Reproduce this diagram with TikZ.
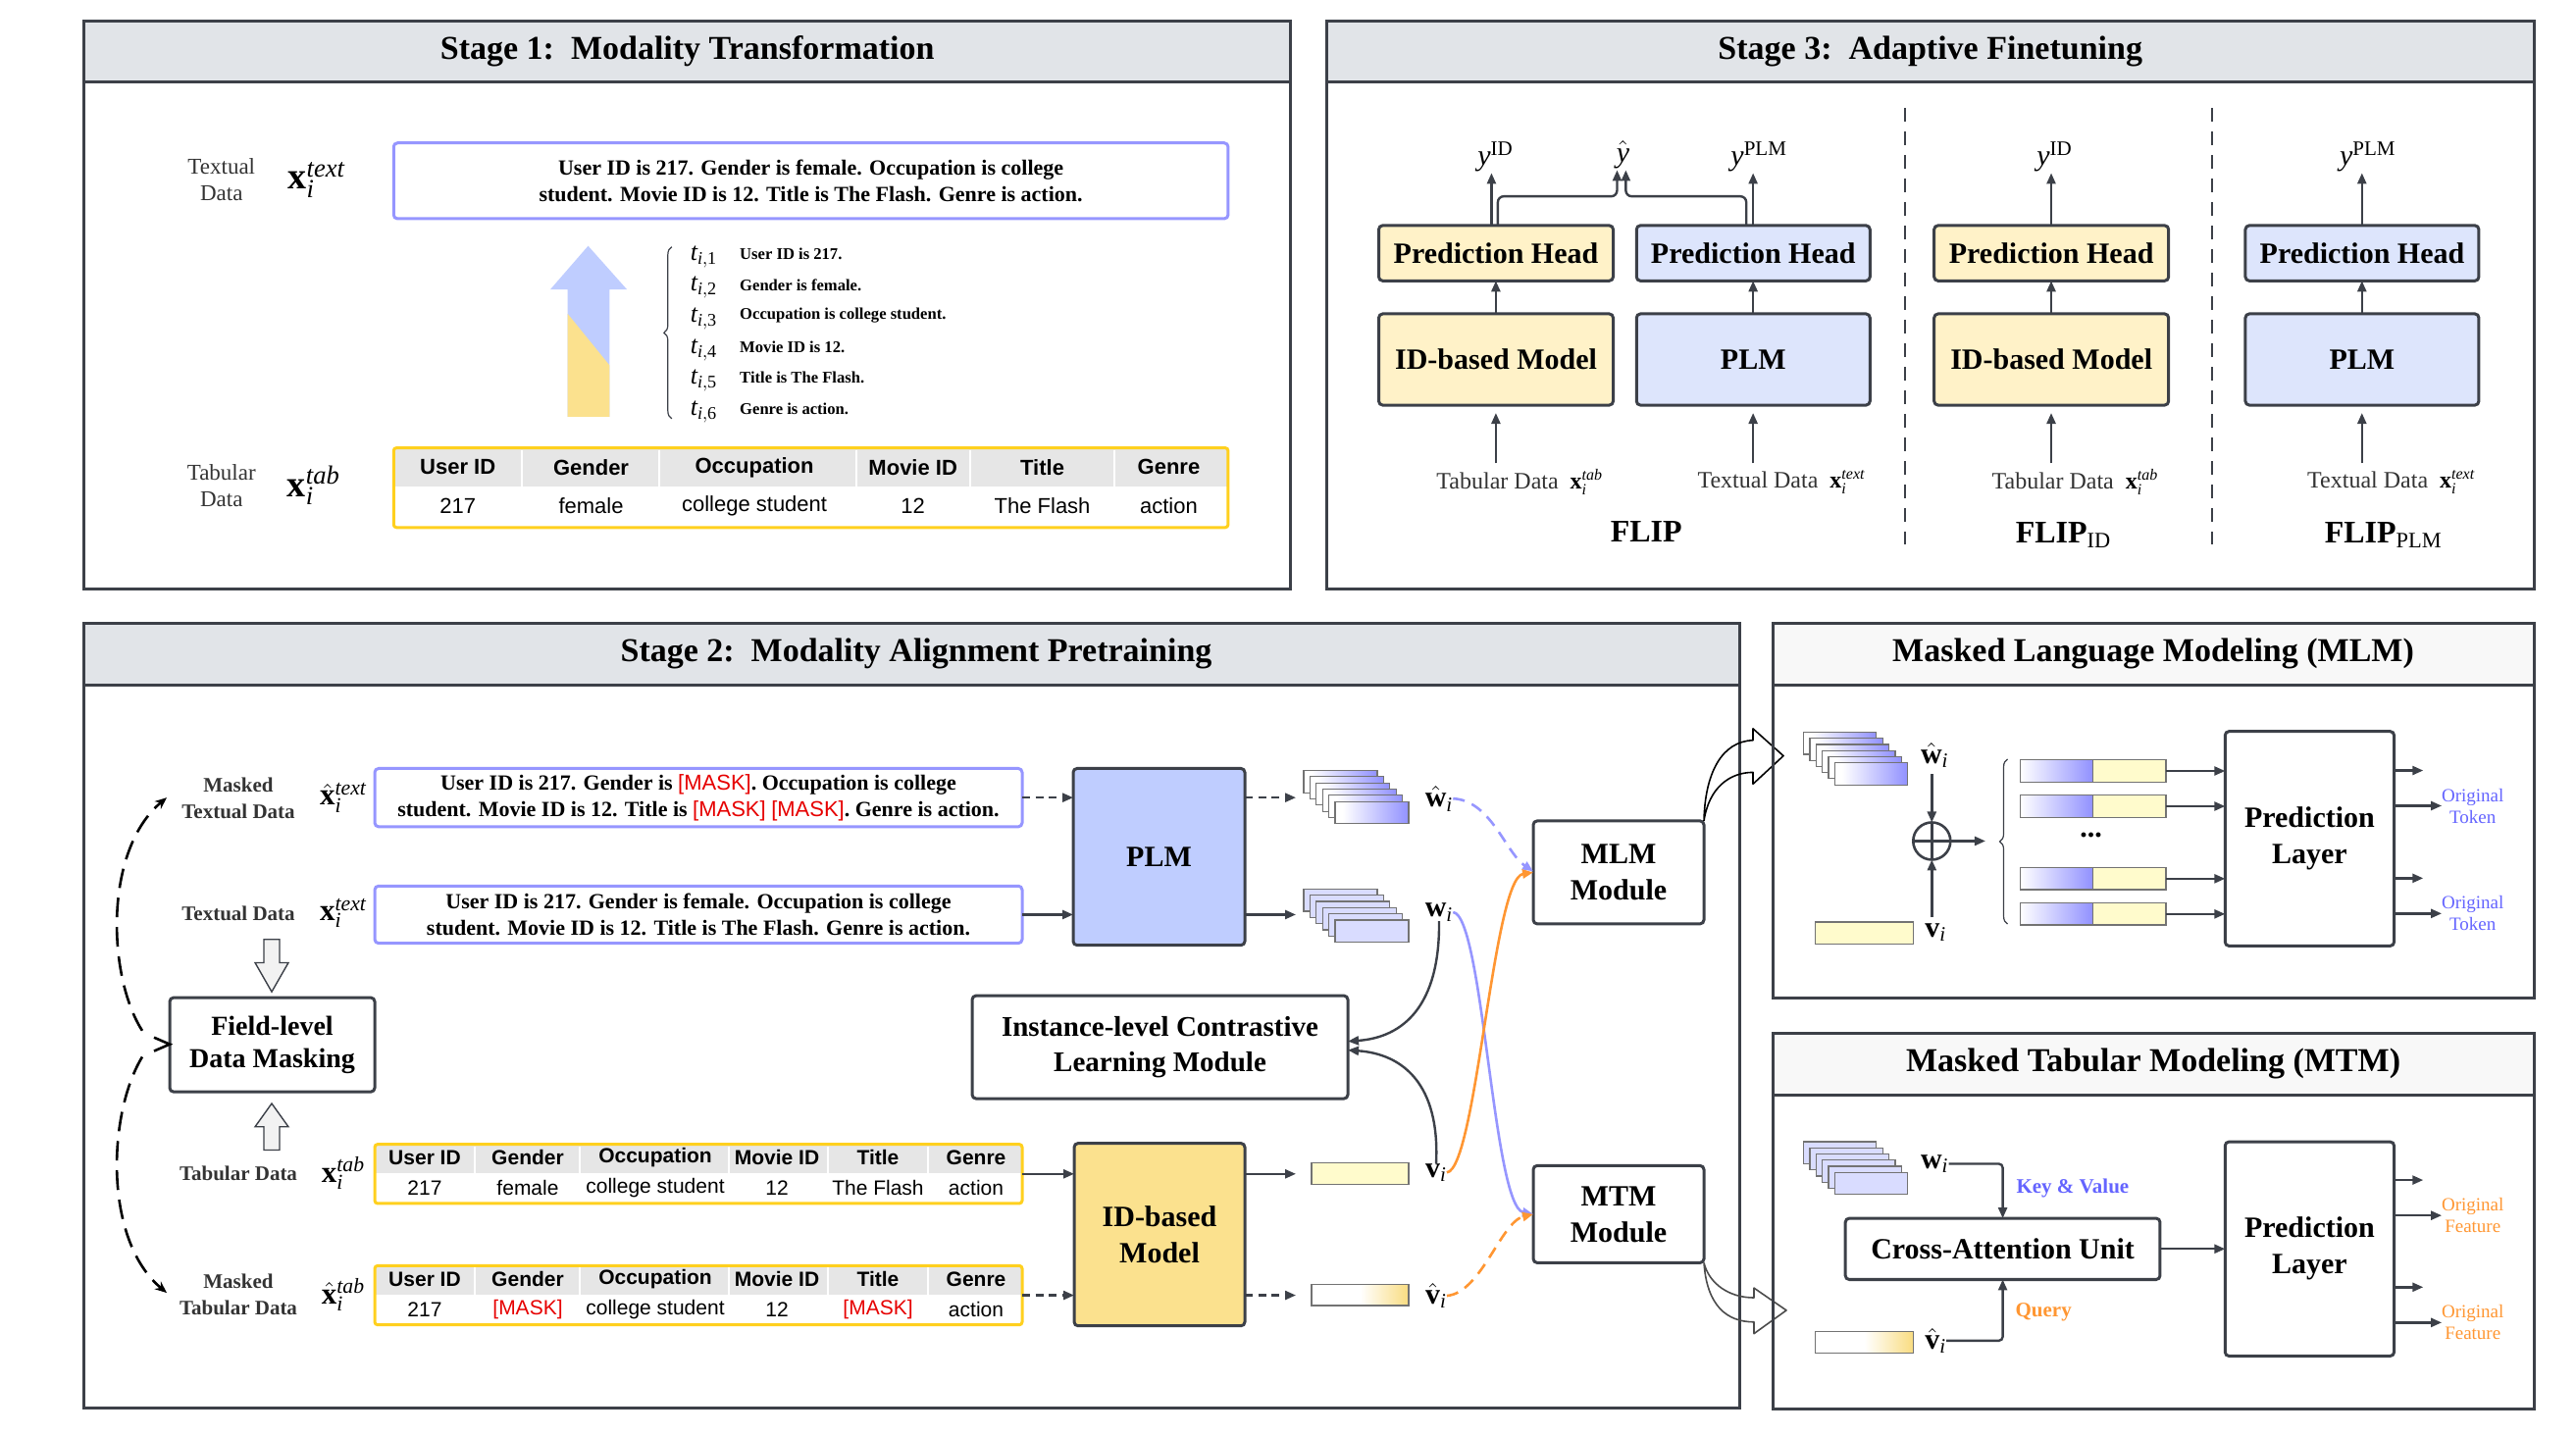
\documentclass[tikz,border=0pt]{standalone}
\usepackage{fontspec}
\setmainfont{Liberation Serif}
\setsansfont{Liberation Sans}
\usetikzlibrary{arrows.meta,calc,decorations.pathreplacing}
\definecolor{dk}{RGB}{60,64,72}
\definecolor{hdr}{RGB}{225,228,232}
\definecolor{hdrb}{RGB}{248,248,248}
\definecolor{bl}{RGB}{150,150,255}
\definecolor{yb}{RGB}{255,208,30}
\definecolor{plmb}{RGB}{191,205,255}
\definecolor{idy}{RGB}{251,225,142}
\definecolor{ly}{RGB}{255,242,200}
\definecolor{lb}{RGB}{221,229,252}
\definecolor{wst}{RGB}{217,220,255}
\definecolor{wgr}{RGB}{145,145,255}
\definecolor{vy}{RGB}{255,251,204}
\definecolor{vgr}{RGB}{249,220,128}
\definecolor{org}{RGB}{255,150,50}
\definecolor{mred}{RGB}{230,0,0}
\definecolor{tgray}{RGB}{51,51,51}
\definecolor{thd}{RGB}{230,230,230}
\definecolor{tokb}{RGB}{100,100,255}
\pgfdeclarehorizontalshading{vhat}{100bp}{color(0bp)=(white); color(50bp)=(white); color(75bp)=(vgr); color(100bp)=(vgr)}
\pgfdeclarehorizontalshading{what}{100bp}{color(0bp)=(white); color(30bp)=(white); color(75bp)=(wgr); color(100bp)=(wgr)}
\def\sxf{1}\def\syf{1}
\newcommand{\mkbox}[7]{\pgfmathsetmacro{\bxw}{(#5-#3)*0.5*\sxf}\pgfmathsetmacro{\bxh}{(#6-#4)*0.5*\syf}\node[#2, minimum width=\bxw pt, minimum height=\bxh pt] (#1) at ({(#3+#5)/2},{(#4+#6)/2}) {#7};}
\newcommand{\vx}[1]{$\mathbf{x}_{\mathit{i}}^{\mathit{#1}}$}
\newcommand{\vxh}[1]{$\hat{\mathbf{x}}_{\mathit{i}}^{\mathit{#1}}$}
\newcommand{\mskd}{\textcolor{mred}{\sffamily\mdseries[MASK]}}
\tikzset{
  bd/.style={draw=dk, line width=1.5pt},
  boxn/.style={draw=dk, line width=1.5pt, rounded corners=2pt, align=center, font=\fontsize{15}{18.5}\selectfont\bfseries},
  tbox/.style={draw=bl, line width=1.5pt, rounded corners=2pt, align=center, font=\fontsize{11}{13.5}\selectfont\bfseries},
  ybox/.style={draw=yb, line width=1.5pt, rounded corners=1.5pt},
  arr/.style={draw=dk, line width=1.2pt, -{Triangle[length=5.5pt,width=4.5pt]}},
  darr/.style={arr, dash pattern=on 4pt off 2.8pt},
  ttl/.style={font=\fontsize{17}{20}\selectfont\bfseries},
  lab1/.style={align=center, text=tgray, font=\fontsize{11.5}{13.5}\selectfont},
  lab2/.style={align=center, text=tgray, font=\fontsize{10.5}{13.5}\selectfont\bfseries},
  lab3/.style={text=tgray, font=\fontsize{12}{14}\selectfont},
  xbig/.style={font=\fontsize{19}{22}\selectfont},
  xmid/.style={font=\fontsize{15.5}{17}\selectfont},
  vlab/.style={font=\fontsize{15}{17}\selectfont},
  th1/.style={font=\fontsize{11}{13}\selectfont\sffamily\bfseries},
  td1/.style={font=\fontsize{11}{13}\selectfont\sffamily},
  th2/.style={font=\fontsize{10.5}{12.5}\selectfont\sffamily\bfseries},
  td2/.style={font=\fontsize{10.5}{12.5}\selectfont\sffamily},
  stk/.style={draw=black!55, line width=0.6pt},
  bln/.style={draw=bl, line width=1.3pt, -{Triangle[length=5.5pt,width=4.5pt]}},
  orn/.style={draw=org, line width=1.3pt, -{Triangle[length=5.5pt,width=4.5pt]}},
  cdash/.style={dash pattern=on 6pt off 4pt},
  ldash/.style={draw=black, line width=1.3pt, dash pattern=on 10pt off 5pt, -{Stealth[length=6pt,width=5pt]}},
  hollow/.style={draw=dk, line width=0.7pt, fill=black!5},
  tok/.style={font=\fontsize{9.5}{11}\selectfont, align=center}
}
\begin{document}
\begin{tikzpicture}[x=0.5pt,y=-0.5pt, every node/.append style={inner sep=0pt, outer sep=0pt}]
\useasboundingbox (0,0) rectangle (2626,1462);

% ================= Stage 1 =================
\begin{scope}[shift={(80,20)}, xscale=0.9915, yscale=0.99, shift={(-80,-20)}]
\def\sxf{0.9915}\def\syf{0.99}
\fill[hdr] (86,22) rectangle (1326,84);
\draw[bd] (86,22) rectangle (1326,606);
\draw[bd] (86,84) -- (1326,84);
\node[ttl] (t1) at (706,53) {Stage 1:\ \ Modality Transformation};

\node[lab1] (s1tl) at (227,185) {Textual\\Data};
\node[xbig] (s1tx) at (325,185) {\vx{text}};
\mkbox{s1t}{tbox}{404}{147}{1262}{225}{User ID is 217. Gender is female. Occupation is college\\student. Movie ID is 12. Title is The Flash. Genre is action.}

\fill[plmb] (604,253) -- (644,298) -- (626,298) -- (626,429) -- (583,429) -- (583,298) -- (565,298) -- cycle;
\fill[idy] (583,323) -- (626,376) -- (626,429) -- (583,429) -- cycle;
\draw[dk, line width=0.6pt, decorate, decoration={brace, amplitude=4pt}] (690,431) -- (690,254);
\foreach \kk/\tokstr in {1/User ID is 217., 2/Gender is female., 3/Occupation is college student., 4/Movie ID is 12., 5/Title is The Flash., 6/Genre is action.}{
  \node[font=\fontsize{13}{15}\selectfont] (tk\kk) at (723,{232+32*\kk}) {$\mathit{t}_{\mathit{i},\mathrm{\kk}}$};
  \node[anchor=west, font=\fontsize{8.3}{10}\selectfont\bfseries] (ts\kk) at (760,{229+32*\kk}) {\tokstr};
}

\node[lab1] (s1bl) at (227,500) {Tabular\\Data};
\node[xbig] (s1bx) at (322,500) {\vx{tab}};
\fill[thd] (404,461) rectangle (1262,501);
\foreach \sx in {536,677,880,997,1145} \draw[white, line width=0.8pt] (\sx,463) -- (\sx,501);
\mkbox{s1tab}{ybox}{404}{461}{1262}{543}{}
\foreach \cx/\hh/\dd in {470/User ID/217, 607/Gender/female, 775/Occupation/college student, 938/Movie ID/12, 1071/Title/The Flash, 1201/Genre/action}{
  \node[th1] at (\cx,481) {\hh};
  \node[td1] at (\cx,521) {\dd};
}
\end{scope}

% ================= Stage 3 =================
\begin{scope}[shift={(1350,20)}, xscale=0.9915, yscale=0.99, shift={(-1350,-20)}]
\def\sxf{0.9915}\def\syf{0.99}
\fill[hdr] (1352,22) rectangle (2594,84);
\draw[bd] (1352,22) rectangle (2594,606);
\draw[bd] (1352,84) -- (2594,84);
\node[ttl] (t3) at (1973,53) {Stage 3:\ \ Adaptive Finetuning};
\draw[dk, line width=1pt, dash pattern=on 7pt off 5pt] (1947,111) -- (1947,560);
\draw[dk, line width=1pt, dash pattern=on 7pt off 5pt] (2263,111) -- (2263,560);

\mkbox{ph1}{boxn, fill=ly}{1406}{232}{1647}{289}{Prediction Head}
\mkbox{ph2}{boxn, fill=lb}{1671}{232}{1911}{289}{Prediction Head}
\mkbox{m1}{boxn, fill=ly}{1406}{323}{1647}{417}{ID-based Model}
\mkbox{m2}{boxn, fill=lb}{1671}{323}{1911}{417}{PLM}
\mkbox{ph3}{boxn, fill=ly}{1977}{232}{2218}{289}{Prediction Head}
\mkbox{m3}{boxn, fill=ly}{1977}{323}{2218}{417}{ID-based Model}
\mkbox{ph4}{boxn, fill=lb}{2297}{232}{2537}{289}{Prediction Head}
\mkbox{m4}{boxn, fill=lb}{2297}{323}{2537}{417}{PLM}
\foreach \i in {1,2,3,4} \draw[arr] (m\i.north) -- (ph\i.south);

\node[lab3] (in1) at (1551,496) {Tabular Data\ \ \textcolor{black}{\vx{tab}}};
\node[lab3] (in2) at (1820,496) {Textual Data\ \ \textcolor{black}{\vx{text}}};
\node[lab3] (in3) at (2122,496) {Tabular Data\ \ \textcolor{black}{\vx{tab}}};
\node[lab3] (in4) at (2447,496) {Textual Data\ \ \textcolor{black}{\vx{text}}};
\foreach \i in {1,2,3,4} \draw[arr, shorten >=4pt] (m\i.south |- 0,477) -- (m\i.south);

\node[font=\fontsize{16}{18}\selectfont\bfseries] (f1) at (1681,547) {FLIP};
\node[font=\fontsize{16}{18}\selectfont] (f2) at (2110,551) {$\mathbf{FLIP}_{\mathrm{ID}}$};
\node[font=\fontsize{16}{18}\selectfont] (f3) at (2439,551) {$\mathbf{FLIP}_{\mathrm{PLM}}$};

\node[vlab, anchor=south] (y1) at (1526,177) {$\mathit{y}^{\mathrm{ID}}$};
\node[vlab, anchor=south] (yh) at (1657,173) {$\hat{\mathit{y}}$};
\node[vlab, anchor=south] (y2) at (1797,177) {$\mathit{y}^{\mathrm{PLM}}$};
\node[vlab, anchor=south] (y3) at (2101,177) {$\mathit{y}^{\mathrm{ID}}$};
\node[vlab, anchor=south] (y4) at (2423,177) {$\mathit{y}^{\mathrm{PLM}}$};
\draw[arr] ([xshift=-2.25pt]ph1.north) -- ++(0,-54);
\draw[arr, rounded corners=3pt] ([xshift=1pt]ph1.north) -- ++(0,-30) -- (1651,202) -- (1651,175);
\draw[arr, rounded corners=3pt] ([xshift=-3.5pt]ph2.north) -- ++(0,-30) -- (1660,202) -- (1660,175);
\draw[arr] (ph2.north) -- ++(0,-54);
\draw[arr] (ph3.north) -- ++(0,-54);
\draw[arr] (ph4.north) -- ++(0,-54);
\end{scope}

% ================= Stage 2 =================
\begin{scope}[shift={(0,630)}, yscale=0.99, shift={(0,-630)}]
\def\sxf{1}\def\syf{0.99}
\fill[hdr] (85,636) rectangle (1773,699);
\draw[bd] (85,636) rectangle (1773,1444);
\draw[bd] (85,699) -- (1773,699);
\node[ttl] (t2) at (934,667) {Stage 2:\ \ Modality Alignment Pretraining};

\node[lab2] (lmt) at (243,816) {Masked\\Textual Data};
\node[xmid] (xmt) at (350,815) {\vxh{text}};
\mkbox{mtext}{tbox}{382}{785}{1042}{845}{User ID is 217. Gender is \mskd. Occupation is college\\student. Movie ID is 12. Title is \mskd\ \mskd. Genre is action.}
\node[lab2] (lt) at (243,934) {Textual Data};
\node[xmid] (xt) at (350,934) {\vx{text}};
\mkbox{txtb}{tbox}{382}{906}{1042}{965}{User ID is 217. Gender is female. Occupation is college\\student. Movie ID is 12. Title is The Flash. Genre is action.}

\draw[hollow] (269,961) -- (285,961) -- (285,985) -- (294,985) -- (277,1015) -- (260,985) -- (269,985) -- cycle;
\mkbox{fld}{boxn, font=\fontsize{14}{16.5}\selectfont\bfseries}{173}{1021}{382}{1118}{Field-level\\Data Masking}
\draw[hollow] (277,1130) -- (294,1154) -- (285,1154) -- (285,1178) -- (269,1178) -- (269,1154) -- (260,1154) -- cycle;

\node[lab2] (ltb) at (243,1202) {Tabular Data};
\node[xmid] (xtb) at (350,1202) {\vx{tab}};
\fill[thd] (382,1172) rectangle (1042,1202);
\foreach \sx in {484,591,743,844,946} \draw[white, line width=0.8pt] (\sx,1174) -- (\sx,1202);
\mkbox{tab}{ybox}{382}{1172}{1042}{1233}{}
\foreach \cx/\hh/\dd in {433/User ID/217, 538/Gender/female, 668/Occupation/college student, 792/Movie ID/12, 895/Title/The Flash, 995/Genre/action}{
  \node[th2] at (\cx,1186) {\hh};
  \node[td2] at (\cx,1217) {\dd};
}
\node[lab2] (lmtb) at (243,1327) {Masked\\Tabular Data};
\node[xmid] (xmtb) at (350,1327) {\vxh{tab}};
\fill[thd] (382,1297) rectangle (1042,1327);
\foreach \sx in {484,591,743,844,946} \draw[white, line width=0.8pt] (\sx,1299) -- (\sx,1327);
\mkbox{mtab}{ybox}{382}{1297}{1042}{1358}{}
\foreach \cx/\hh/\dd in {433/User ID/217, 538/Gender/\textcolor{mred}{[MASK]}, 668/Occupation/college student, 792/Movie ID/12, 895/Title/\textcolor{mred}{[MASK]}, 995/Genre/action}{
  \node[th2] at (\cx,1311) {\hh};
  \node[td2] at (\cx,1342) {\dd};
}

% left dashed curves
\draw[ldash] (145,1055) .. controls (110,1000) and (105,870) .. (170,815);
\draw[ldash] (145,1082) .. controls (110,1140) and (105,1270) .. (170,1325);
\draw[black, line width=1.3pt] (157,1062) -- (fld.west |- 0,1069) -- (157,1076);

\mkbox{plm}{boxn, fill=plmb}{1094}{785}{1269}{967}{PLM}
\mkbox{idm}{boxn, fill=idy}{1095}{1171}{1269}{1359}{ID-based\\Model}
\draw[darr] (mtext.east) -- (mtext.east -| plm.west);
\draw[arr] (txtb.east) -- (txtb.east -| plm.west);
\draw[arr] (tab.east) -- (tab.east -| idm.west);
\draw[darr] (mtab.east) -- (mtab.east -| idm.west);
\draw[darr] (mtext.east -| plm.east) -- ++(52,0);
\draw[arr] (txtb.east -| plm.east) -- ++(52,0);
\draw[arr] (tab.east -| idm.east) -- ++(52,0);
\draw[darr] (mtab.east -| idm.east) -- ++(52,0);

\foreach \kk in {0,...,5} \draw[stk, shade, shading=what] ({1329+6.4*\kk},{787+6.4*\kk}) rectangle ++(75,23);
\foreach \kk in {0,...,5} \draw[stk, fill=wst] ({1329+6.4*\kk},{909+6.4*\kk}) rectangle ++(75,23);
\draw[stk, fill=vy] (1337,1191) rectangle (1436,1213);
\draw[stk, shade, shading=vhat] (1337,1316) rectangle (1436,1338);

\node[vlab] (wh) at (1467,816) {$\hat{\mathbf{w}}_{\mathit{i}}$};
\node[vlab] (w) at (1467,933) {$\mathbf{w}_{\mathit{i}}$};
\node[vlab] (v) at (1464,1201) {$\mathbf{v}_{\mathit{i}}$};
\node[vlab] (vh) at (1464,1328) {$\hat{\mathbf{v}}_{\mathit{i}}$};

\mkbox{ilcl}{boxn, font=\fontsize{14.5}{18}\selectfont\bfseries}{991}{1019}{1374}{1125}{Instance-level Contrastive\\Learning Module}
\mkbox{mlm}{boxn}{1563}{839}{1737}{945}{MLM\\Module}
\mkbox{mtm}{boxn}{1563}{1194}{1737}{1294}{MTM\\Module}

\draw[arr] (w.south) .. controls (1468,1030) and (1430,1062) .. ([yshift=3pt]ilcl.east);
\draw[arr] (v.north) .. controls (1468,1110) and (1430,1079) .. ([yshift=-1.5pt]ilcl.east);

\draw[bln, cdash] (wh.east) .. controls (1520,818) and (1535,872) .. ([yshift=0.5pt]mlm.west);
\draw[bln] (w.east) .. controls (1512,936) and (1522,1236) .. (mtm.west);
\draw[orn] (v.east) .. controls (1505,1198) and (1522,898) .. (mlm.west);
\draw[orn, cdash] (vh.east) .. controls (1510,1325) and (1530,1252) .. (mtm.west);

% hollow curved arrows
\draw[black, line width=0.8pt, line join=round] (mlm.north east) .. controls (1738,790) and (1755,757) .. (1787,756) -- (1787,744) -- (1818,772) -- (1787,801) -- (1787,789) .. controls (1763,789) and (1742,805) .. (mlm.north east);
\draw[black!70, line width=0.8pt, line join=round] (mtm.south east) .. controls (1740,1338) and (1760,1355) .. (1788,1355) -- (1788,1367) -- (1821,1343) -- (1788,1320) -- (1788,1330) .. controls (1762,1330) and (1742,1315) .. (mtm.south east);
\end{scope}

% ================= MLM panel =================
\begin{scope}[shift={(1800,630)}, xscale=0.99, yscale=0.972, shift={(-1800,-630)}]
\def\sxf{0.99}\def\syf{0.972}
\fill[hdrb] (1808,636) rectangle (2591,700);
\draw[bd] (1808,636) rectangle (2591,1029);
\draw[bd] (1808,700) -- (2591,700);
\node[ttl] (tm1) at (2199,668) {Masked Language Modeling (MLM)};
\foreach \kk in {0,...,5} \draw[stk, shade, shading=what] ({1839+6.4*\kk},{750+6.4*\kk}) rectangle ++(75,23);
\node[vlab] (wh2) at (1974,774) {$\hat{\mathbf{w}}_{\mathit{i}}$};
\node[circle, draw=dk, line width=1.3pt, minimum size=19pt] (op) at (1971,864) {};
\draw[dk, line width=1.3pt] (op.north) -- (op.south) (op.west) -- (op.east);
\draw[stk, fill=vy] (1851,949) rectangle (1952,972);
\node[vlab] (v2) at (1975,960) {$\mathbf{v}_{\mathit{i}}$};
\draw[arr] (op.north |- 0,794) -- (op.north);
\draw[arr] (op.south |- 0,944) -- (op.south);
\draw[arr] (op.east) -- ++(36,0);
\draw[dk, line width=0.6pt, decorate, decoration={brace, amplitude=4pt}] (2049,951) -- (2049,778);
\mkbox{pl1}{boxn}{2273}{749}{2447}{974}{Prediction\\Layer}
\foreach \yy in {779,816,892,929}{
  \draw[stk, left color=white, right color=wgr] (2062,\yy) rectangle (2137,\yy+23);
  \draw[stk, fill=vy] (2137,\yy) rectangle (2212,\yy+23);
  \draw[arr] (2212,\yy+11.5) -- (pl1.west |- 0,\yy+11.5);
}
\node[font=\fontsize{15}{17}\selectfont\bfseries] (dots) at (2135,858) {...};
\draw[arr] (pl1.east |- 0,790) -- ++(30,0);
\draw[arr] (pl1.east |- 0,827) -- ++(49,0);
\draw[arr] (pl1.east |- 0,903) -- ++(30,0);
\draw[arr] (pl1.east |- 0,940) -- ++(49,0);
\node[tok, text=tokb] (ot1) at (2528,828) {Original\\Token};
\node[tok, text=tokb] (ot2) at (2528,940) {Original\\Token};
\end{scope}

% ================= MTM panel =================
\begin{scope}[shift={(1800,1050)}, xscale=0.99, yscale=0.975, shift={(-1800,-1050)}]
\def\sxf{0.99}\def\syf{0.975}
\fill[hdrb] (1808,1054) rectangle (2591,1118);
\draw[bd] (1808,1054) rectangle (2591,1446);
\draw[bd] (1808,1118) -- (2591,1118);
\node[ttl] (tm2) at (2199,1085) {Masked Tabular Modeling (MTM)};
\foreach \kk in {0,...,5} \draw[stk, fill=wst] ({1839+6.4*\kk},{1167+6.4*\kk}) rectangle ++(75,23);
\node[vlab] (w3) at (1974,1190) {$\mathbf{w}_{\mathit{i}}$};
\mkbox{ca}{boxn}{1882}{1247}{2206}{1311}{Cross-Attention Unit}
\draw[arr, rounded corners=2pt] (w3.east) -| (ca.north);
\node[font=\fontsize{10.5}{12}\selectfont\bfseries, text=tokb] (kv) at (2116,1216) {Key \& Value};
\draw[stk, shade, shading=vhat] (1851,1365) rectangle (1952,1388);
\node[vlab] (vh3) at (1975,1375) {$\hat{\mathbf{v}}_{\mathit{i}}$};
\draw[arr, rounded corners=2pt] (vh3.east) -| (ca.south);
\node[font=\fontsize{10.5}{12}\selectfont\bfseries, text=org] (qy) at (2086,1345) {Query};
\mkbox{pl2}{boxn}{2273}{1167}{2447}{1391}{Prediction\\Layer}
\draw[arr] (ca.east) -- (ca.east -| pl2.west);
\draw[arr] (pl2.east |- 0,1207) -- ++(30,0);
\draw[arr] (pl2.east |- 0,1244) -- ++(49,0);
\draw[arr] (pl2.east |- 0,1319) -- ++(30,0);
\draw[arr] (pl2.east |- 0,1356) -- ++(49,0);
\node[tok, text=org] (of1) at (2528,1244) {Original\\Feature};
\node[tok, text=org] (of2) at (2528,1356) {Original\\Feature};
\end{scope}
\end{tikzpicture}
\end{document}
